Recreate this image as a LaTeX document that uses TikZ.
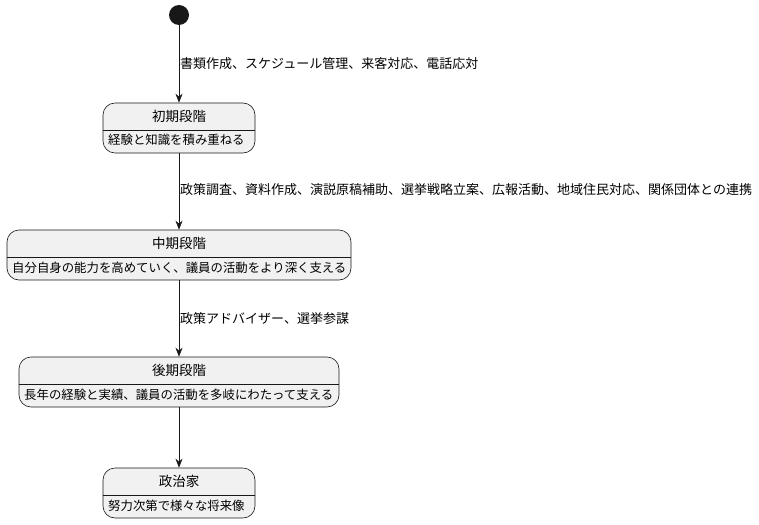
\documentclass[tikz,border=0pt]{standalone}
\usepackage{fontspec}
\setmainfont{Noto Sans CJK JP}
\usetikzlibrary{arrows.meta}
\definecolor{sfill}{HTML}{F1F1F1}
\definecolor{sline}{HTML}{181818}
\begin{document}
\begin{tikzpicture}[x=1pt,y=1pt,
  state/.style={draw=sline,fill=sfill,rounded corners=12pt,minimum height=50pt,inner sep=0pt,line width=0.6pt},
  ttl/.style={font=\fontsize{13.5}{15}\selectfont,inner sep=0pt},
  body/.style={font=\fontsize{12.4}{14}\selectfont,inner sep=0pt,anchor=west},
  lbl/.style={font=\fontsize{13}{15}\selectfont,inner sep=0pt,anchor=west},
  arr/.style={draw=sline,line width=0.6pt,-{Stealth[length=9pt,width=7pt]}}]
\useasboundingbox (0,0) rectangle (759,-524);
\node[circle,fill=sline,minimum size=20pt,inner sep=0pt] (start) at (179,-15) {};
% states
\node[state,minimum width=152pt] (s1) at (179,-128) {};
\node[state,minimum width=344pt] (s2) at (179,-255) {};
\node[state,minimum width=320pt] (s3) at (179,-382) {};
\node[state,minimum width=152pt] (s4) at (179,-493) {};
\draw[sline,line width=0.6pt] (s1.west|-0,-130) -- (s1.east|-0,-130);
\draw[sline,line width=0.6pt] (s2.west|-0,-257) -- (s2.east|-0,-257);
\draw[sline,line width=0.6pt] (s3.west|-0,-384) -- (s3.east|-0,-384);
\draw[sline,line width=0.6pt] (s4.west|-0,-495) -- (s4.east|-0,-495);
\node[ttl] (t1) at (179,-116) {初期段階};
\node[body] (b1) at (108,-140) {経験と知識を積み重ねる};
\node[ttl] (t2) at (179,-243) {中期段階};
\node[body] (b2) at (12,-268) {自分自身の能力を高めていく、議員の活動をより深く支える};
\node[ttl] (t3) at (179,-370) {後期段階};
\node[body] (b3) at (24,-395) {長年の経験と実績、議員の活動を多岐にわたって支える};
\node[ttl] (t4) at (179,-481) {政治家};
\node[body] (b4) at (108,-506) {努力次第で様々な将来像};
% arrows
\draw[arr] (start) -- (s1.north);
\draw[arr] (s1.south) -- (s2.north);
\draw[arr] (s2.south) -- (s3.north);
\draw[arr] (s3.south) -- (s4.north);
\node[lbl] (l1) at (180,-64) {書類作成、スケジュール管理、来客対応、電話応対};
\node[lbl] (l2) at (180,-190) {政策調査、資料作成、演説原稿補助、選挙戦略立案、広報活動、地域住民対応、関係団体との連携};
\node[lbl] (l3) at (180,-319) {政策アドバイザー、選挙参謀};
\end{tikzpicture}
\end{document}
